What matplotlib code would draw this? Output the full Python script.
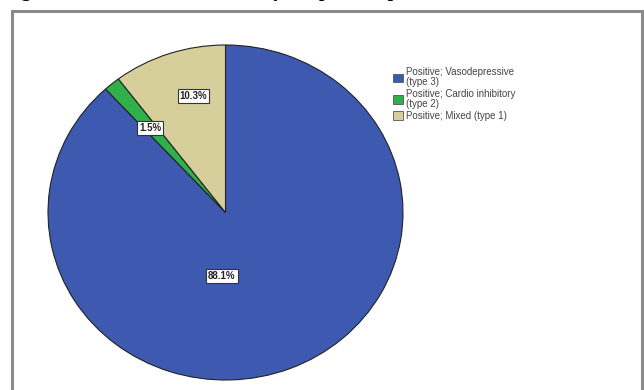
import matplotlib
matplotlib.use("Agg")
import matplotlib.pyplot as plt
from matplotlib.patches import Rectangle, Patch
import numpy as np

# ---- data ----
categories = ["Positive; Vasodepressive\n(type 3)",
              "Positive; Cardio inhibitory\n(type 2)",
              "Positive; Mixed (type 1)"]
percents = [88.1, 1.5, 10.3]
colors = ["#3d5ab0", "#2fb04a", "#d6cf9c"]

# label placement (angle in deg, radius as pie fraction)
label_pos = [(-93, 0.38), (130, 0.66), (104.5, 0.72)]

fig = plt.figure(figsize=(6.44, 3.90), dpi=100)

# caption cropped by the top edge, only the descenders show
fig.text(0.006, 1 + 2.8 / 390, "Figure 1: Results of the HUTT by the positive pattern",
         family="Liberation Serif", fontweight="bold", fontsize=14,
         ha="left", va="baseline", color="black")

# gray frame around the chart
fig.patches.append(Rectangle((12 / 644, -0.05), 629.5 / 644, 1.05 - 11 / 390,
                             transform=fig.transFigure, fill=False,
                             edgecolor="#8a8a8a", linewidth=2.2))

ax = fig.add_axes([48 / 644, 10 / 390, 355 / 644, 335 / 390])
wedges, _ = ax.pie(percents, colors=colors, startangle=90, counterclock=False,
                   wedgeprops=dict(edgecolor="#222222", linewidth=0.8))
ax.set_aspect("auto")
ax.set_xlim(-1, 1)
ax.set_ylim(-1, 1)
ax.axis("off")

for pct, (ang, r) in zip(percents, label_pos):
    a = np.deg2rad(ang)
    ax.text(r * np.cos(a), r * np.sin(a), f"{pct:.1f}%",
            family="Liberation Sans", fontweight="bold", fontsize=7,
            color="#222222", ha="center", va="center",
            bbox=dict(boxstyle="square,pad=0.2", facecolor="white",
                      edgecolor="#333333", linewidth=0.8))

handles = [Patch(facecolor=c, edgecolor="#555555", linewidth=0.6) for c in colors]
leg = fig.legend(handles, categories, loc="upper left",
                 bbox_to_anchor=(393 / 644, 1 - 67 / 390),
                 frameon=False, prop=dict(family="Liberation Sans", size=7),
                 handlelength=1.0, handleheight=1.0, handletextpad=0.35,
                 labelspacing=0.15, borderaxespad=0, borderpad=0)
for t in leg.get_texts():
    t.set_color("#444444")
    t.set_linespacing(1.05)

fig.savefig("out.png", dpi=100)
